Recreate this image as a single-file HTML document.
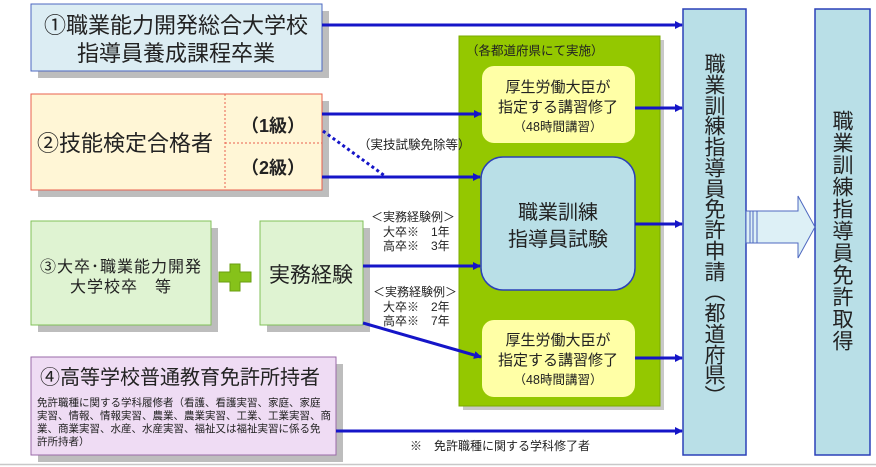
<!DOCTYPE html>
<html><head><meta charset="utf-8"><style>
html,body{margin:0;padding:0;background:#fff;}
svg{display:block;}
text{font-family:"Liberation Sans","Noto Sans CJK JP",sans-serif;fill:#222;}
.v{font-size:21px;text-anchor:middle;dominant-baseline:central;}
</style></head><body>
<svg width="876" height="467" viewBox="0 0 876 467" xmlns="http://www.w3.org/2000/svg">
<defs>
<marker id="ah" markerWidth="8" markerHeight="8" refX="7" refY="4" orient="auto" markerUnits="userSpaceOnUse"><path d="M0,0 L8,4 L0,8 Z" fill="#1515c8"/></marker>
</defs>
<rect x="38" y="11" width="291" height="67" fill="#bdbdbd"/>
<rect x="38" y="101" width="291" height="96" fill="#bdbdbd"/>
<rect x="38" y="228" width="180" height="104" fill="#bdbdbd"/>
<rect x="267" y="228" width="103" height="104" fill="#bdbdbd"/>
<rect x="38" y="364" width="305" height="98" fill="#bdbdbd"/>
<rect x="463" y="40" width="201" height="370" fill="#c8c8c8"/>
<rect x="31" y="4" width="291" height="67" fill="#dcedf3" stroke="#4e68c0" stroke-width="1"/>
<text x="176" y="33" font-size="22" text-anchor="middle">①職業能力開発総合大学校</text>
<text x="176" y="61" font-size="22" text-anchor="middle">指導員養成課程卒業</text>
<rect x="31" y="94" width="291" height="96" fill="#fff6d6" stroke="#e8604e" stroke-width="1"/>
<line x1="225" y1="94" x2="225" y2="190" stroke="#e8604e" stroke-dasharray="2,2"/>
<line x1="225" y1="143" x2="322" y2="143" stroke="#e8604e" stroke-dasharray="2,2"/>
<text x="37" y="151" font-size="22">②技能検定合格者</text>
<text x="273" y="132" font-size="18" font-weight="bold" text-anchor="middle">（1級）</text>
<text x="273" y="174" font-size="18" font-weight="bold" text-anchor="middle">（2級）</text>
<rect x="31" y="221" width="180" height="104" fill="#dff3d2" stroke="#80c058" stroke-width="1"/>
<text x="121" y="272" font-size="16" text-anchor="middle" letter-spacing="1">③大卒･職業能力開発</text>
<text x="121" y="292" font-size="16" text-anchor="middle" letter-spacing="1">大学校卒　等</text>
<path d="M230,264 h10 v8 h11 v10 h-11 v9 h-10 v-9 h-11 v-10 h11 z" fill="#86c21a" stroke="#6a9e10" stroke-width="1"/>
<rect x="260" y="221" width="103" height="104" fill="#dff3d2" stroke="#80c058" stroke-width="1"/>
<text x="311" y="282" font-size="21" text-anchor="middle">実務経験</text>
<rect x="31" y="357" width="305" height="98" fill="#efdcf4" stroke="#9a6aa8" stroke-width="1"/>
<text x="180" y="384" font-size="20" text-anchor="middle">④高等学校普通教育免許所持者</text>
<text x="37" y="406" font-size="10.5">免許職種に関する学科履修者（看護、看護実習、家庭、家庭</text>
<text x="37" y="419" font-size="10.5">実習、情報、情報実習、農業、農業実習、工業、工業実習、商</text>
<text x="37" y="432" font-size="10.5">業、商業実習、水産、水産実習、福祉又は福祉実習に係る免</text>
<text x="37" y="445" font-size="10.5">許所持者）</text>
<rect x="459" y="36" width="201" height="370" fill="#94c800" stroke="#7aaa00"/>
<text x="466" y="55" font-size="12.5">（各都道府県にて実施）</text>
<rect x="482" y="66" width="153" height="77" rx="12" fill="#ffffa6"/>
<text x="558" y="92" font-size="15" text-anchor="middle">厚生労働大臣が</text>
<text x="558" y="112" font-size="15" text-anchor="middle">指定する講習修了</text>
<text x="558" y="131" font-size="12.5" text-anchor="middle">（48時間講習）</text>
<rect x="481" y="157" width="154" height="133" rx="22" fill="#b9dfe7" stroke="#2b40b8" stroke-width="1.5"/>
<text x="558" y="219" font-size="20" text-anchor="middle">職業訓練</text>
<text x="558" y="246" font-size="20" text-anchor="middle">指導員試験</text>
<rect x="482" y="320" width="153" height="77" rx="12" fill="#ffffa6"/>
<text x="558" y="345" font-size="15" text-anchor="middle">厚生労働大臣が</text>
<text x="558" y="365" font-size="15" text-anchor="middle">指定する講習修了</text>
<text x="558" y="384" font-size="12.5" text-anchor="middle">（48時間講習）</text>
<rect x="683" y="9" width="63" height="446" fill="#b9dfe7" stroke="#2b40b8" stroke-width="1.5"/>
<g class="v">
<text class="v" x="715" y="65">職</text><text class="v" x="715" y="86">業</text><text class="v" x="715" y="107">訓</text><text class="v" x="715" y="127">練</text><text class="v" x="715" y="148">指</text><text class="v" x="715" y="169">導</text><text class="v" x="715" y="190">員</text><text class="v" x="715" y="210">免</text><text class="v" x="715" y="231">許</text><text class="v" x="715" y="252">申</text><text class="v" x="715" y="273">請</text><text class="v" x="715" y="293">︵</text><text class="v" x="715" y="314">都</text><text class="v" x="715" y="335">道</text><text class="v" x="715" y="356">府</text><text class="v" x="715" y="376">県</text><text class="v" x="715" y="397">︶</text>
</g>
<rect x="815" y="9" width="55" height="446" fill="#b9dfe7" stroke="#2b40b8" stroke-width="1.5"/>
<text class="v" x="843" y="122">職</text><text class="v" x="843" y="144">業</text><text class="v" x="843" y="166">訓</text><text class="v" x="843" y="188">練</text><text class="v" x="843" y="210">指</text><text class="v" x="843" y="232">導</text><text class="v" x="843" y="254">員</text><text class="v" x="843" y="276">免</text><text class="v" x="843" y="298">許</text><text class="v" x="843" y="320">取</text><text class="v" x="843" y="342">得</text>
<path d="M757,211 H798 V196 L815,227 L798,258 V243 H757 Z" fill="#ddf0f6" stroke="#4e68c0" stroke-width="1"/>
<rect x="746" y="211" width="11" height="32" fill="#ddf0f6" stroke="#4e68c0" stroke-width="1"/>
<line x1="750" y1="211" x2="750" y2="243" stroke="#4e68c0"/>
<line x1="753" y1="211" x2="753" y2="243" stroke="#4e68c0"/>
<g stroke="#1515c8" stroke-width="3" fill="none">
<line x1="322" y1="25" x2="682" y2="25" marker-end="url(#ah)"/>
<line x1="322" y1="114" x2="481" y2="114" marker-end="url(#ah)"/>
<line x1="322" y1="177" x2="480" y2="177" marker-end="url(#ah)"/>
<line x1="363" y1="266" x2="480" y2="266" marker-end="url(#ah)"/>
<line x1="363" y1="323" x2="481" y2="357" marker-end="url(#ah)"/>
<line x1="635" y1="108" x2="682" y2="108" marker-end="url(#ah)"/>
<line x1="635" y1="224" x2="682" y2="224" marker-end="url(#ah)"/>
<line x1="635" y1="358" x2="682" y2="358" marker-end="url(#ah)"/>
<line x1="336" y1="431" x2="682" y2="431" marker-end="url(#ah)"/>
<line x1="323" y1="131" x2="385" y2="176" stroke-dasharray="3,3"/>
</g>
<text x="358" y="149" font-size="12.5">（実技試験免除等）</text>
<g font-size="12">
<text x="413" y="221" text-anchor="middle">＜実務経験例＞</text>
<text x="383" y="236">大卒※　1年</text>
<text x="383" y="250">高卒※　3年</text>
<text x="415" y="296" text-anchor="middle">＜実務経験例＞</text>
<text x="383" y="311">大卒※　2年</text>
<text x="383" y="325">高卒※　7年</text>
</g>
<text x="410" y="450" font-size="12">※　免許職種に関する学科修了者</text>
<line x1="0" y1="464.5" x2="876" y2="464.5" stroke="#c8c8c8" stroke-width="1.5"/>
</svg>
</body></html>
